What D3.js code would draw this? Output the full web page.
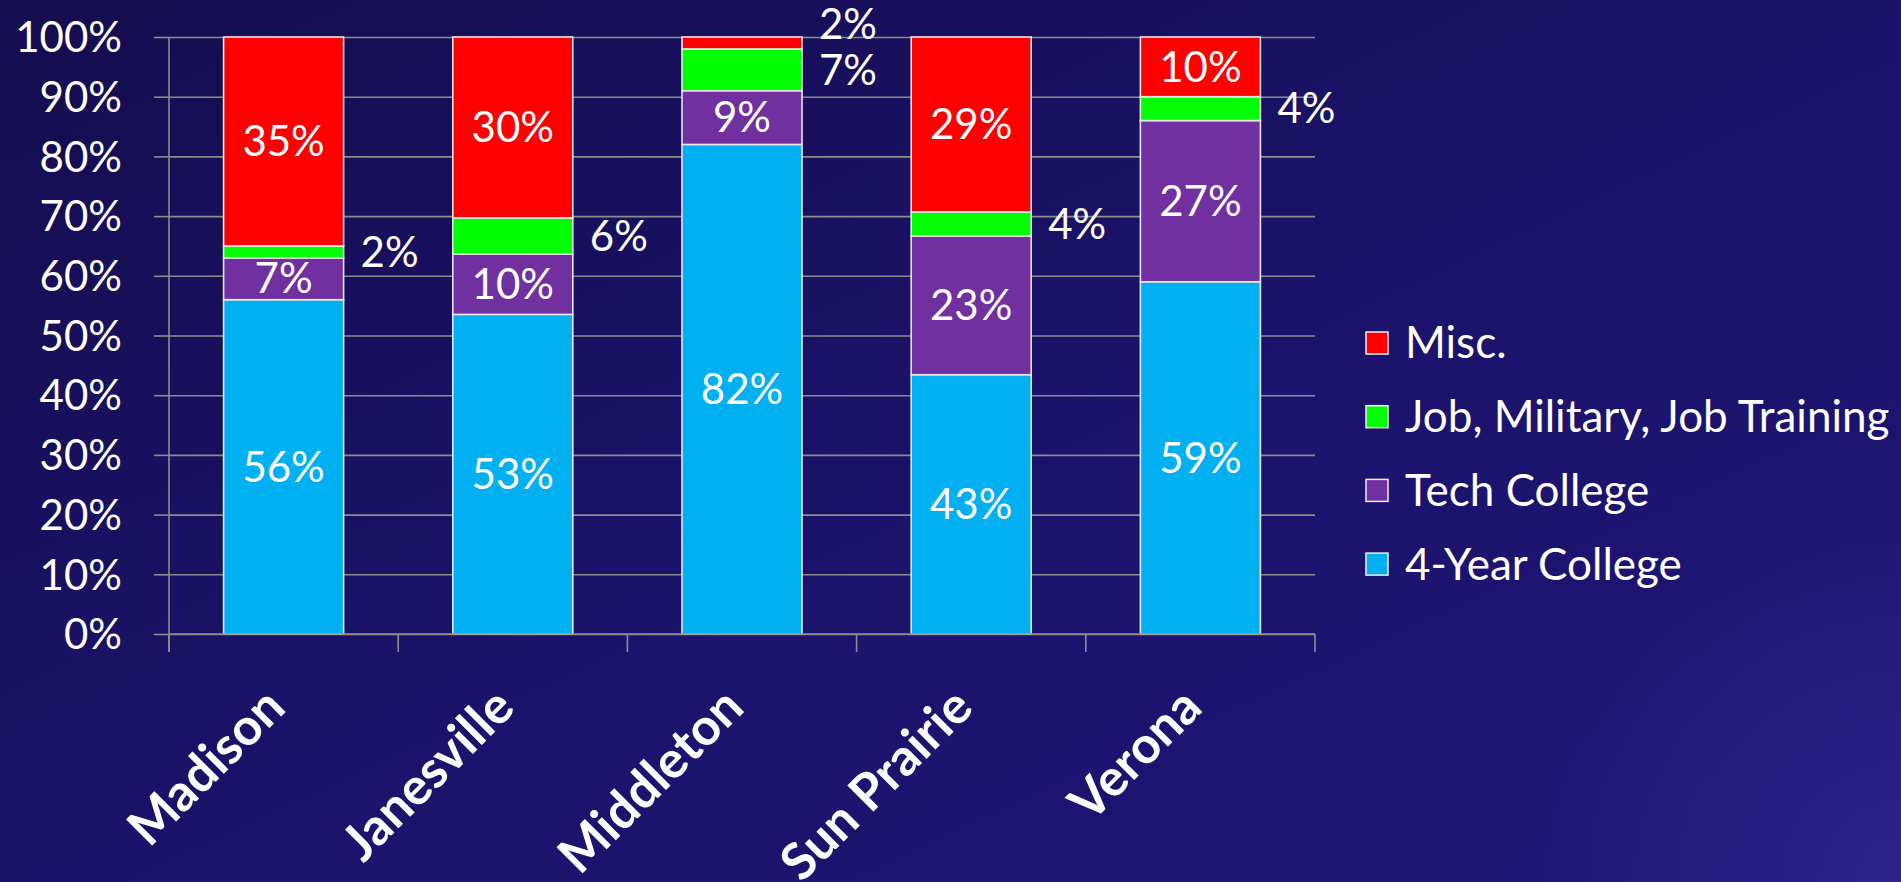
<!DOCTYPE html>
<html>
<head>
<meta charset="utf-8">
<script src="https://cdn.jsdelivr.net/npm/d3@7"></script>
<style>
  html, body { margin: 0; padding: 0; overflow: hidden; background: #170f55; }
  svg { display: block; }
  text { font-family: Lato, "Open Sans", "Noto Sans", sans-serif; fill: #ffffff; }
</style>
</head>
<body>
<svg id="chart" width="1901" height="882"></svg>
<script>
// Post-graduation plans by school district (percent of graduates)
const categories = ["Madison", "Janesville", "Middleton", "Sun Prairie", "Verona"];
const seriesNames = ["4-Year College", "Tech College", "Job, Military, Job Training", "Misc."];
const fourYearCollege = [56, 53, 82, 43, 59];
const techCollege = [7, 10, 9, 23, 27];
const jobMilitary = [2, 6, 7, 4, 4];
const misc = [35, 30, 2, 29, 10];
const yTickValues = [0, 0.1, 0.2, 0.3, 0.4, 0.5, 0.6, 0.7, 0.8, 0.9, 1];
const seriesColors = ["#00b0f0", "#7030a0", "#00ff00", "#ff0000"];

const W = 1901, H = 882;
const plot = { left: 169, right: 1315, top: 37, bottom: 634 };

const svg = d3.select("#chart");

// Background: deep navy with a soft glow toward the lower-right corner
const defs = svg.append("defs");
const lg = defs.append("linearGradient").attr("id", "bg")
  .attr("x1", "0").attr("y1", "0").attr("x2", "1").attr("y2", "1");
lg.append("stop").attr("offset", "0").attr("stop-color", "#150d4e");
lg.append("stop").attr("offset", "0.55").attr("stop-color", "#1b136c");
lg.append("stop").attr("offset", "1").attr("stop-color", "#1d1574");
const rg = defs.append("radialGradient").attr("id", "glow")
  .attr("gradientUnits", "userSpaceOnUse")
  .attr("cx", W).attr("cy", H).attr("r", 420);
rg.append("stop").attr("offset", "0").attr("stop-color", "#2e2389").attr("stop-opacity", 1);
rg.append("stop").attr("offset", "1").attr("stop-color", "#2e2389").attr("stop-opacity", 0);
svg.append("rect").attr("width", W).attr("height", H).attr("fill", "url(#bg)");
svg.append("rect").attr("width", W).attr("height", H).attr("fill", "url(#glow)");

// Table of rows built from the series arrays
const rows = categories.map((c, i) => ({
  category: c,
  "4-Year College": fourYearCollege[i],
  "Tech College": techCollege[i],
  "Job, Military, Job Training": jobMilitary[i],
  "Misc.": misc[i]
}));

const x = d3.scaleBand().domain(categories)
  .range([plot.left, plot.right])
  .paddingInner(0.4764).paddingOuter(0.2382);
const y = d3.scaleLinear().domain([0, 1]).range([plot.bottom, plot.top]);
const color = d3.scaleOrdinal().domain(seriesNames).range(seriesColors);

// Gridlines
svg.append("g")
  .attr("transform", `translate(${plot.left},0)`)
  .call(d3.axisLeft(y).tickValues(yTickValues).tickFormat("")
    .tickSizeInner(-(plot.right - plot.left)).tickSizeOuter(0))
  .call(g => g.select(".domain").remove())
  .call(g => g.selectAll("line").attr("stroke", "#8c8c8c").attr("stroke-width", 1.6));

// Y axis with tick labels
svg.append("g")
  .attr("transform", `translate(${plot.left},0)`)
  .call(d3.axisLeft(y).tickValues(yTickValues).tickFormat(d3.format(".0%"))
    .tickSizeInner(15).tickSizeOuter(0).tickPadding(32))
  .call(g => g.select(".domain").remove())
  .call(g => g.selectAll("line").attr("stroke", "#8c8c8c").attr("stroke-width", 1.6))
  .call(g => g.selectAll("text")
    .attr("fill", "#ffffff").attr("font-size", 42)
    .attr("font-family", "Lato, 'Open Sans', sans-serif").attr("dy", "0.35em"));

// Vertical axis line (runs past the baseline like a tick)
svg.append("line")
  .attr("x1", plot.left).attr("x2", plot.left)
  .attr("y1", plot.top).attr("y2", plot.bottom + 18)
  .attr("stroke", "#8c8c8c").attr("stroke-width", 1.6);

// Category boundary ticks below the baseline
const step = x.step();
const boundaries = d3.range(categories.length + 1).map(i => plot.left + i * step);
svg.append("g").selectAll("line").data(boundaries).join("line")
  .attr("x1", d => d).attr("x2", d => d)
  .attr("y1", plot.bottom).attr("y2", plot.bottom + 18)
  .attr("stroke", "#8c8c8c").attr("stroke-width", 1.6);

// 100% stacked columns
const stack = d3.stack().keys(seriesNames).offset(d3.stackOffsetExpand);
const layers = stack(rows);

const layerG = svg.append("g").selectAll("g").data(layers).join("g")
  .attr("fill", d => color(d.key));
layerG.selectAll("rect").data(d => d).join("rect")
  .attr("x", d => x(d.data.category))
  .attr("width", x.bandwidth())
  .attr("y", d => y(d[1]))
  .attr("height", d => y(d[0]) - y(d[1]))
  .attr("stroke", "#e6e6e6").attr("stroke-width", 1.6);

// Baseline over the bars
svg.append("line")
  .attr("x1", plot.left).attr("x2", plot.right)
  .attr("y1", plot.bottom).attr("y2", plot.bottom)
  .attr("stroke", "#8c8c8c").attr("stroke-width", 1.6);

// Data labels: inside the segment when there is room, otherwise to the right
const labelSize = 42;
const lastOutside = {};
layers.forEach(layer => {
  layer.forEach(seg => {
    const value = seg.data[layer.key];
    const cx = x(seg.data.category) + x.bandwidth() / 2;
    const cy = (y(seg[0]) + y(seg[1])) / 2;
    const outside = layer.key === "Job, Military, Job Training" || value <= 2;
    if (!outside) {
      svg.append("text")
        .attr("x", cx).attr("y", cy).attr("dy", "0.35em")
        .attr("text-anchor", "middle").attr("font-size", labelSize)
        .text(value + "%");
    } else {
      let ly = cy;
      const prev = lastOutside[seg.data.category];
      if (prev !== undefined && prev - ly < 46) ly = prev - 46;
      lastOutside[seg.data.category] = ly;
      svg.append("text")
        .attr("x", x(seg.data.category) + x.bandwidth() + 17).attr("y", ly).attr("dy", "0.35em")
        .attr("text-anchor", "start").attr("font-size", labelSize)
        .text(value + "%");
    }
  });
});

// Category labels, rotated
svg.append("g").selectAll("text").data(categories).join("text")
  .attr("transform", d => `translate(${x(d) + x.bandwidth() / 2 + 4},${plot.bottom + 76}) rotate(-45)`)
  .attr("text-anchor", "end").attr("font-size", 51).attr("font-weight", "bold")
  .text(d => d);

// Legend (top to bottom: Misc. first)
const legendItems = seriesNames.slice().reverse();
const legend = svg.append("g").attr("transform", "translate(1366,343)");
const item = legend.selectAll("g").data(legendItems).join("g")
  .attr("transform", (d, i) => `translate(0,${i * 73.7})`);
item.append("rect")
  .attr("x", 0).attr("y", -11).attr("width", 22).attr("height", 22)
  .attr("fill", d => color(d)).attr("stroke", "#f0f0f0").attr("stroke-width", 1.5);
item.append("text")
  .attr("x", 39).attr("y", 0).attr("dy", "0.35em")
  .attr("font-size", 44)
  .text(d => d);
</script>
</body>
</html>
